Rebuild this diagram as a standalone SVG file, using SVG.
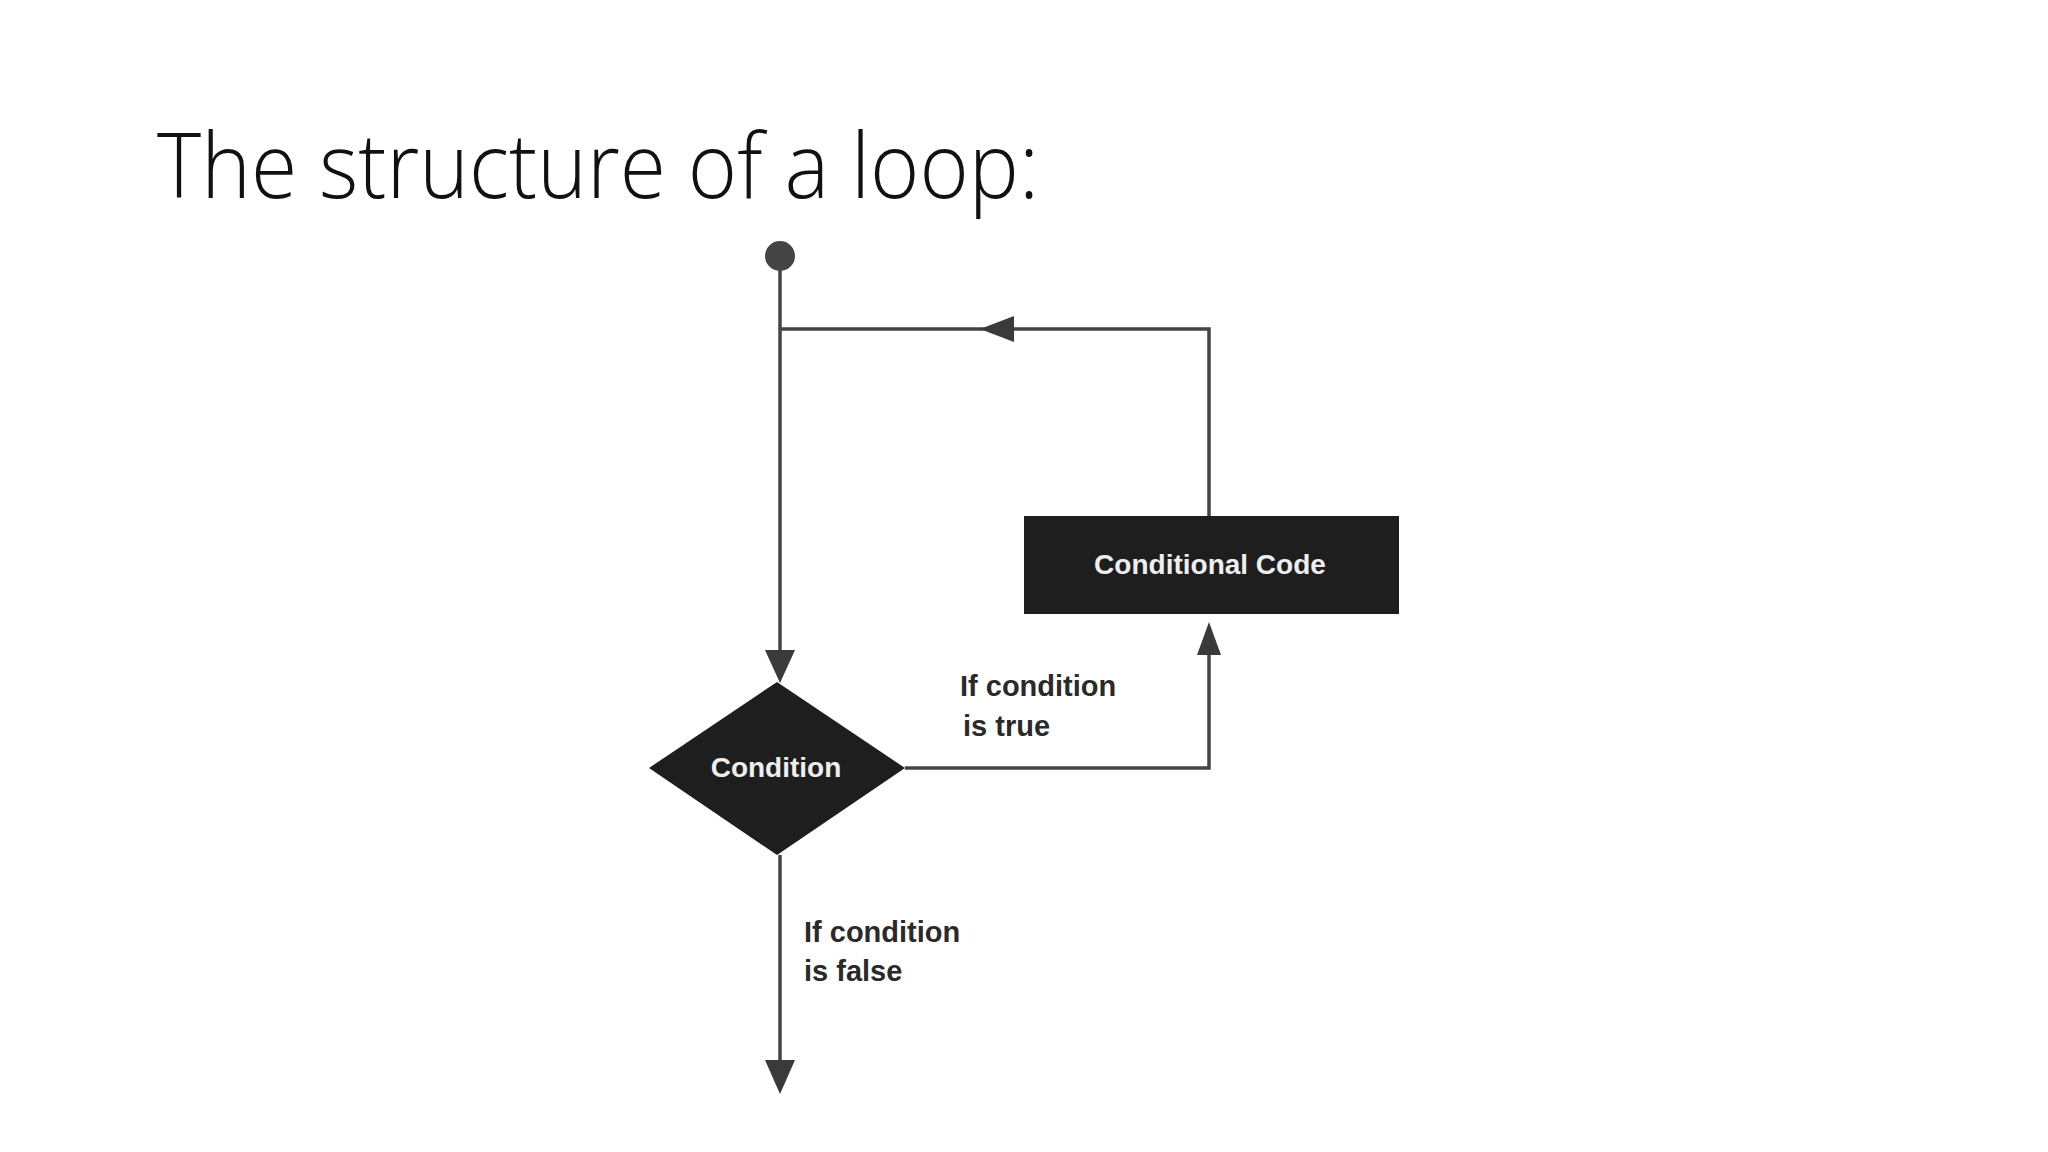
<svg xmlns="http://www.w3.org/2000/svg" width="2048" height="1152" viewBox="0 0 2048 1152">
<style>
.ln{stroke:#444;stroke-width:3.5;fill:none}
.ah{fill:#3a3a3a}
.lbl{font-family:"Liberation Sans",Arial,sans-serif;font-weight:bold;font-size:29px;fill:#2a2a2a}
.nt{font-family:"Liberation Sans",Arial,sans-serif;font-weight:bold;font-size:28px;fill:#eee;text-anchor:middle;dominant-baseline:central}
</style>
<rect width="2048" height="1152" fill="#fff"/>
<text x="157" y="198" font-family="'Open Sans',sans-serif" font-weight="300" font-size="90" fill="#111" textLength="882" lengthAdjust="spacingAndGlyphs">The structure of a loop:</text>
<g id="start"><circle cx="780" cy="256" r="15" fill="#444"/></g>
<g id="connectors">
<path class="ln" d="M780 256V655"/>
<polygon class="ah" points="765,650 795,650 780,683"/>
<path class="ln" d="M780 329H1209V516"/>
<polygon class="ah" points="980,329 1014,316 1014,342"/>
<path class="ln" d="M905 768H1209V650"/>
<polygon class="ah" points="1209,622 1197,655 1221,655"/>
<path class="ln" d="M780 855V1065"/>
<polygon class="ah" points="765,1060 795,1060 780,1094"/>
<text class="lbl" x="960" y="696">If condition</text>
<text class="lbl" x="963" y="736">is true</text>
<text class="lbl" x="804" y="942">If condition</text>
<text class="lbl" x="804" y="981">is false</text>
</g>
<g id="code"><rect x="1024" y="516" width="375" height="98" fill="#1e1e1e"/><text class="nt" x="1210" y="564">Conditional Code</text></g>
<g id="condition"><polygon points="777,682 905,768 777,855 649,768" fill="#1e1e1e"/><text class="nt" x="776" y="767">Condition</text></g>
</svg>
